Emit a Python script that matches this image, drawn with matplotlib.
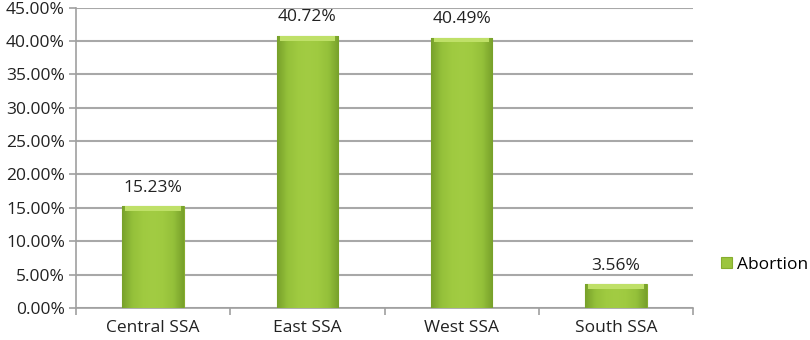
import numpy as np
import matplotlib
matplotlib.use("Agg")
import matplotlib.pyplot as plt
from matplotlib.colors import LinearSegmentedColormap
from matplotlib.ticker import FuncFormatter, FixedLocator

# data
regions = ["Central SSA", "East SSA", "West SSA", "South SSA"]
abortion = [15.23, 40.72, 40.49, 3.56]
series_name = "Abortion"

plt.rcParams['font.family'] = ['Open Sans', 'DejaVu Sans']
fs = 12.5

fig = plt.figure(figsize=(8.1, 3.4), dpi=100)
ax = fig.add_axes([76/810, 32/340, (693-76)/810, (308-7.5)/340])

x = np.arange(len(regions))
bars = ax.bar(x, abortion, width=0.4, color="#9bc53d", edgecolor="#86ad2e",
              linewidth=0.8, zorder=3, label=series_name)

# horizontal gradient on each bar to mimic the bevel look
cmap = LinearSegmentedColormap.from_list(
    "bev", ["#77a02a", "#94c03a", "#9fca40", "#a2cc43", "#9fca40", "#94c03a", "#77a02a"])
grad = np.linspace(0, 1, 256).reshape(1, -1)
for i, b in enumerate(bars):
    bx, by = b.get_x(), b.get_y()
    w, h = b.get_width(), b.get_height()
    im = ax.imshow(grad, cmap=cmap, aspect="auto", extent=[bx, bx + w, by, by + h],
                   zorder=4, interpolation="bicubic")
    im.set_clip_path(b)
    # lighter top bevel
    ax.fill_between([bx + w*0.05, bx + w*0.95], by + h - 0.7, by + h,
                    color="#bfe068", zorder=5, linewidth=0)
    ax.text(bx + w/2, by + h + 1.6, f"{abortion[i]:.2f}%",
            ha="center", va="bottom", fontsize=fs, color="#222222")

ax.set_xlim(-0.5, len(regions) - 0.5)
ax.set_ylim(0, 45)
ax.yaxis.set_major_locator(FixedLocator(np.arange(0, 46, 5)))
ax.yaxis.set_major_formatter(FuncFormatter(lambda v, p: f"{v:.2f}%"))
ax.set_xticks(x)
ax.set_xticklabels(regions)
ax.xaxis.set_minor_locator(FixedLocator(np.arange(-0.5, len(regions), 1.0)))
ax.tick_params(axis="x", which="major", length=0, labelsize=fs, pad=9)
ax.tick_params(axis="x", which="minor", length=5, color="#a0a0a0", width=1.2)
ax.tick_params(axis="y", length=5, color="#a0a0a0", width=1.2, labelsize=fs, pad=3)
for lab in ax.get_yticklabels() + ax.get_xticklabels():
    lab.set_color("#222222")

ax.grid(axis="y", color="#a8a8a8", linewidth=1.5, zorder=0)
for s in ["top", "right"]:
    ax.spines[s].set_visible(False)
ax.spines["left"].set_color("#a0a0a0")
ax.spines["bottom"].set_color("#a0a0a0")
ax.spines["left"].set_linewidth(1.2)
ax.spines["bottom"].set_linewidth(1.2)

leg = fig.legend(handles=[bars], labels=[series_name], loc="center left",
                 bbox_to_anchor=(718/810, 1 - 265/340), frameon=False,
                 fontsize=fs, handlelength=0.6, handleheight=0.6, handletextpad=0.3,
                 borderpad=0.2, borderaxespad=0)

fig.savefig("out.png", dpi=100)
